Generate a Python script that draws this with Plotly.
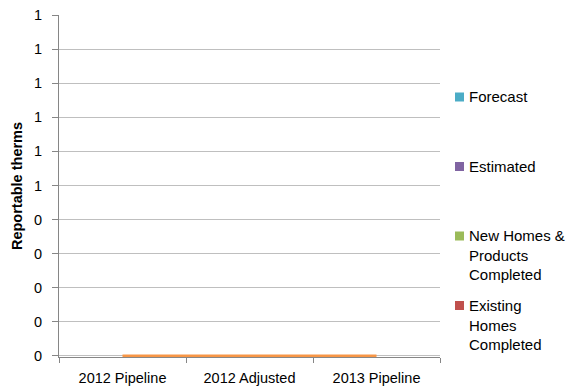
import plotly.graph_objects as go

categories = ["2012 Pipeline", "2012 Adjusted", "2013 Pipeline"]
existing_homes = [0, 0, 0]
new_homes = [0, 0, 0]
estimated = [0, 0, 0]
forecast = [0, 0, 0]
total_line = [0, 0, 0]
y_tick_values = [0, 0.1, 0.2, 0.3, 0.4, 0.5, 0.6, 0.7, 0.8, 0.9, 1.0]
y_tick_labels = ["0", "0", "0", "0", "0", "1", "1", "1", "1", "1", "1"]
series_names = ["Existing Homes Completed", "New Homes & Products Completed", "Estimated", "Forecast"]
legend_labels = ["Existing<br>Homes<br>Completed", "New Homes &<br>Products<br>Completed", "Estimated", "Forecast"]
series_colors = ["#C0504D", "#9BBB59", "#8064A2", "#4BACC6"]

font_family = "Liberation Sans, Arial, sans-serif"

# plot area geometry (px)
W, H = 576, 390
L, R, T, B = 59, 136, 15, 33
pw, ph = W - L - R, H - T - B
y_min = -0.003

def px_x(x):
    return (x - L) / pw

def px_y(y):
    return (H - B - y) / ph

fig = go.Figure()
series_values = [existing_homes, new_homes, estimated, forecast]
for name, vals, color in zip(series_names, series_values, series_colors):
    fig.add_trace(go.Bar(x=categories, y=vals, name=name,
                         marker=dict(color=color, line=dict(width=0)), width=0.6,
                         showlegend=False))

fig.add_trace(go.Scatter(x=categories, y=total_line, mode="lines", showlegend=False,
                         line=dict(color="#F79646", width=3), cliponaxis=False))

# legend drawn at the right (Forecast on top)
legend_centers = {"Forecast": 97, "Estimated": 166.5, "New Homes & Products Completed": 236,
                  "Existing Homes Completed": 305.5}
shapes = []
annotations = []
for name, label, color in zip(series_names, legend_labels, series_colors):
    cy = legend_centers[name]
    shapes.append(dict(type="rect", xref="paper", yref="paper",
                       x0=px_x(455), x1=px_x(464), y0=px_y(cy + 4.5), y1=px_y(cy - 4.5),
                       fillcolor=color, line=dict(width=0)))
    annotations.append(dict(text=label, xref="paper", yref="paper",
                            x=px_x(467), y=px_y(cy - 10.5), xanchor="left", yanchor="top",
                            align="left", showarrow=False,
                            font=dict(size=15, color="#000000", family=font_family)))

fig.update_layout(
    width=W, height=H,
    barmode="stack",
    margin=dict(l=L, r=R, t=T, b=B, autoexpand=False),
    paper_bgcolor="white", plot_bgcolor="white",
    font=dict(family=font_family, size=14.5, color="#000000"),
    showlegend=False,
    shapes=shapes,
    annotations=annotations,
)
fig.update_xaxes(
    showline=True, linecolor="#868686", linewidth=1,
    ticks="outside", tickson="boundaries", ticklen=5, tickcolor="#868686",
    showgrid=False, layer="below traces", automargin=False,
    tickfont=dict(size=14.5), ticklabelstandoff=8,
)
fig.update_yaxes(
    range=[y_min, 1], tickvals=y_tick_values, ticktext=y_tick_labels,
    showline=True, linecolor="#868686", linewidth=1,
    ticks="outside", ticklen=6, tickcolor="#868686",
    showgrid=True, gridcolor="#BFBFBF", gridwidth=1,
    zeroline=False, tickfont=dict(size=14.5), automargin=False,
    ticklabelstandoff=7,
    title=dict(text="<b>Reportable therms</b>", font=dict(size=14.5), standoff=7),
)

fig.write_html("out.html", config={"displayModeBar": False},
               post_script="document.body.style.margin='0px';")
